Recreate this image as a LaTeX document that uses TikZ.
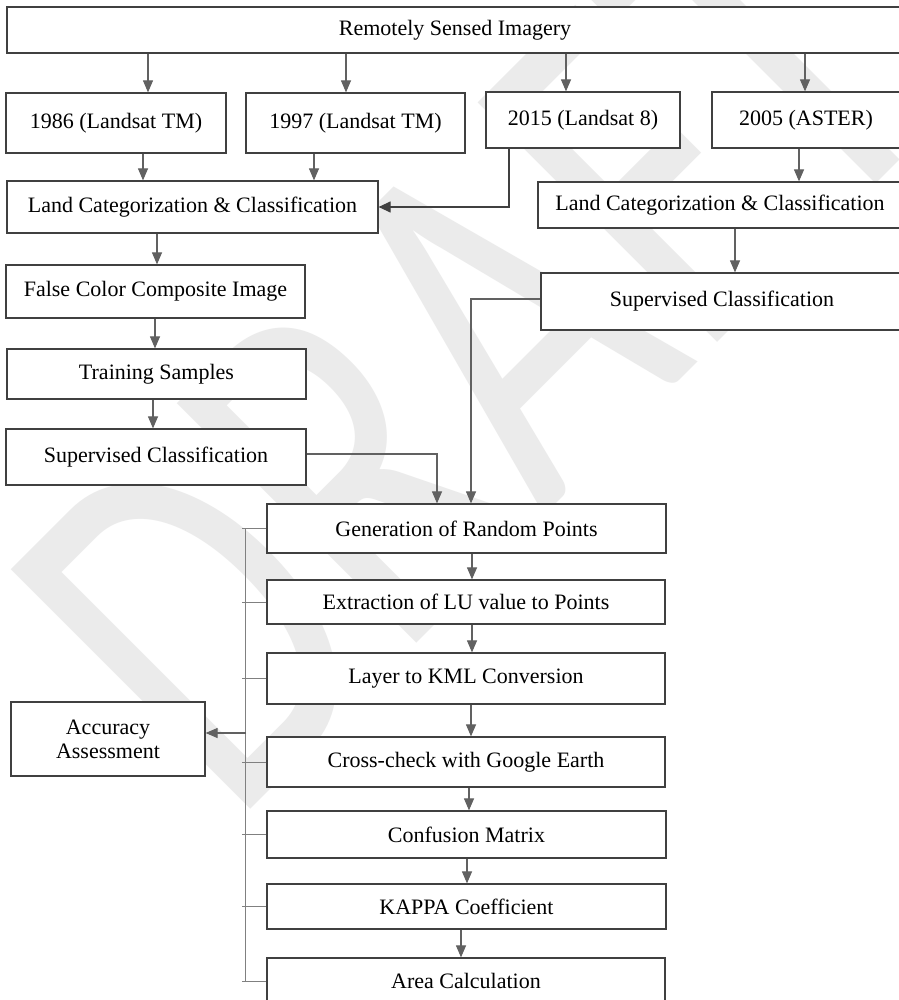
\documentclass[tikz,border=0pt]{standalone}
\usepackage{fontspec}
\setmainfont{Liberation Serif}
\newfontfamily\wmfont{Carlito}
\usetikzlibrary{arrows.meta}
\begin{document}
\begin{tikzpicture}[x=1pt,y=-1pt,
  box/.style={draw=black!75, line width=1.2pt, fill=white, inner sep=0pt, align=center,
              font=\fontsize{22}{24}\selectfont},
  arr/.style={draw=black!62, line width=1.1pt, -{Triangle[length=12pt,width=10pt]}},
  barr/.style={draw=black!75, line width=1.2pt, -{Triangle[length=12pt,width=11pt]}},
  bus/.style={draw=black!50, line width=1pt},
  wm/.style={text=black!8, inner sep=0pt, font=\wmfont\fontsize{528}{528}\selectfont}]
\useasboundingbox (0,0) rectangle (898,1000);
\fill[white] (0,0) rectangle (898,1000);
% watermark
\node[wm, rotate=45, xscale=0.72, anchor=base west] (wmk) at (232,828) {DRAFT};
% boxes
\node[box, minimum width=896pt, minimum height=46pt] (top) at (455,30) {Remotely Sensed Imagery};
\node[box, minimum width=220pt, minimum height=60pt] (b1986) at (116,123) {1986 (Landsat TM)};
\node[box, minimum width=219pt, minimum height=60pt] (b1997) at (355.5,123) {1997 (Landsat TM)};
\node[box, minimum width=194pt, minimum height=56pt] (b2015) at (583,120) {2015 (Landsat 8)};
\node[box, minimum width=188pt, minimum height=56pt] (b2005) at (806,120) {2005 (ASTER)};
\node[box, minimum width=371pt, minimum height=52pt] (lcL) at (192.5,207) {Land Categorization \& Classification};
\node[box, minimum width=364pt, minimum height=46pt] (lcR) at (720,205) {Land Categorization \& Classification};
\node[box, minimum width=362pt, minimum height=57pt] (scR) at (722,301.5) {Supervised Classification};
\node[box, minimum width=299pt, minimum height=53pt] (fcc) at (155.5,291.5) {False Color Composite Image};
\node[box, minimum width=299pt, minimum height=50pt] (ts) at (156.5,374) {Training Samples};
\node[box, minimum width=300pt, minimum height=56pt] (scL) at (156,457) {Supervised Classification};
\node[box, minimum width=399pt, minimum height=49pt] (gen) at (466.5,528.5) {Generation of Random Points};
\node[box, minimum width=398pt, minimum height=44pt] (ext) at (466,602) {Extraction of LU value to Points};
\node[box, minimum width=398pt, minimum height=51pt] (kml) at (466,678.5) {Layer to KML Conversion};
\node[box, minimum width=194pt, minimum height=74pt] (acc) at (108,739) {Accuracy\\Assessment};
\node[box, minimum width=398pt, minimum height=50pt] (cross) at (466,762) {Cross-check with Google Earth};
\node[box, minimum width=399pt, minimum height=47pt] (conf) at (466.5,834.5) {Confusion Matrix};
\node[box, minimum width=399pt, minimum height=45pt] (kappa) at (466.5,906.5) {KAPPA Coefficient};
\node[box, minimum width=398pt, minimum height=46pt] (area) at (466,981) {Area Calculation};
% top row arrows
\draw[arr] ([xshift=32pt]b1986.north |- top.south) -- ([xshift=32pt]b1986.north);
\draw[arr] ([xshift=-9.5pt]b1997.north |- top.south) -- ([xshift=-9.5pt]b1997.north);
\draw[arr] ([xshift=-17pt]b2015.north |- top.south) -- ([xshift=-17pt]b2015.north);
\draw[arr] ([xshift=-1pt]b2005.north |- top.south) -- ([xshift=-1pt]b2005.north);
% second row
\draw[arr] ([xshift=27pt]b1986.south) -- ([xshift=27pt]b1986.south |- lcL.north);
\draw[arr] ([xshift=-41.5pt]b1997.south) -- ([xshift=-41.5pt]b1997.south |- lcL.north);
\draw[barr] ([xshift=-74pt]b2015.south) |- (lcL.east);
\draw[arr] ([xshift=-7pt]b2005.south) -- ([xshift=-7pt]b2005.south |- lcR.north);
% left chain
\draw[arr] ([xshift=1.5pt]fcc.north |- lcL.south) -- ([xshift=1.5pt]fcc.north);
\draw[arr] ([xshift=-1.5pt]ts.north |- fcc.south) -- ([xshift=-1.5pt]ts.north);
\draw[arr] ([xshift=-3pt]scL.north |- ts.south) -- ([xshift=-3pt]scL.north);
% right chain
\draw[arr] ([xshift=13pt]scR.north |- lcR.south) -- ([xshift=13pt]scR.north);
\draw[arr] ([yshift=2.5pt]scR.west) -| ([xshift=4.5pt]gen.north);
\draw[arr] ([yshift=3pt]scL.east) -| ([xshift=-29.5pt]gen.north);
% main chain
\draw[arr] ([xshift=6pt]ext.north |- gen.south) -- ([xshift=6pt]ext.north);
\draw[arr] ([xshift=6pt]kml.north |- ext.south) -- ([xshift=6pt]kml.north);
\draw[arr] ([xshift=5pt]cross.north |- kml.south) -- ([xshift=5pt]cross.north);
\draw[arr] ([xshift=2.5pt]conf.north |- cross.south) -- ([xshift=2.5pt]conf.north);
\draw[arr] ([xshift=0.5pt]kappa.north |- conf.south) -- ([xshift=0.5pt]kappa.north);
\draw[arr] ([xshift=-5pt]area.north |- kappa.south) -- ([xshift=-5pt]area.north);
% accuracy bus
\draw[bus] ([xshift=-21pt]gen.west) -- ([xshift=-21pt]area.west);
\foreach \n in {gen,ext,kml,cross,conf,kappa,area}
  \draw[bus] (\n.west) -- ++(-24,0);
\coordinate (accin) at (246,733);
\draw[arr] (accin) -- (accin -| acc.east);
\end{tikzpicture}
\end{document}
